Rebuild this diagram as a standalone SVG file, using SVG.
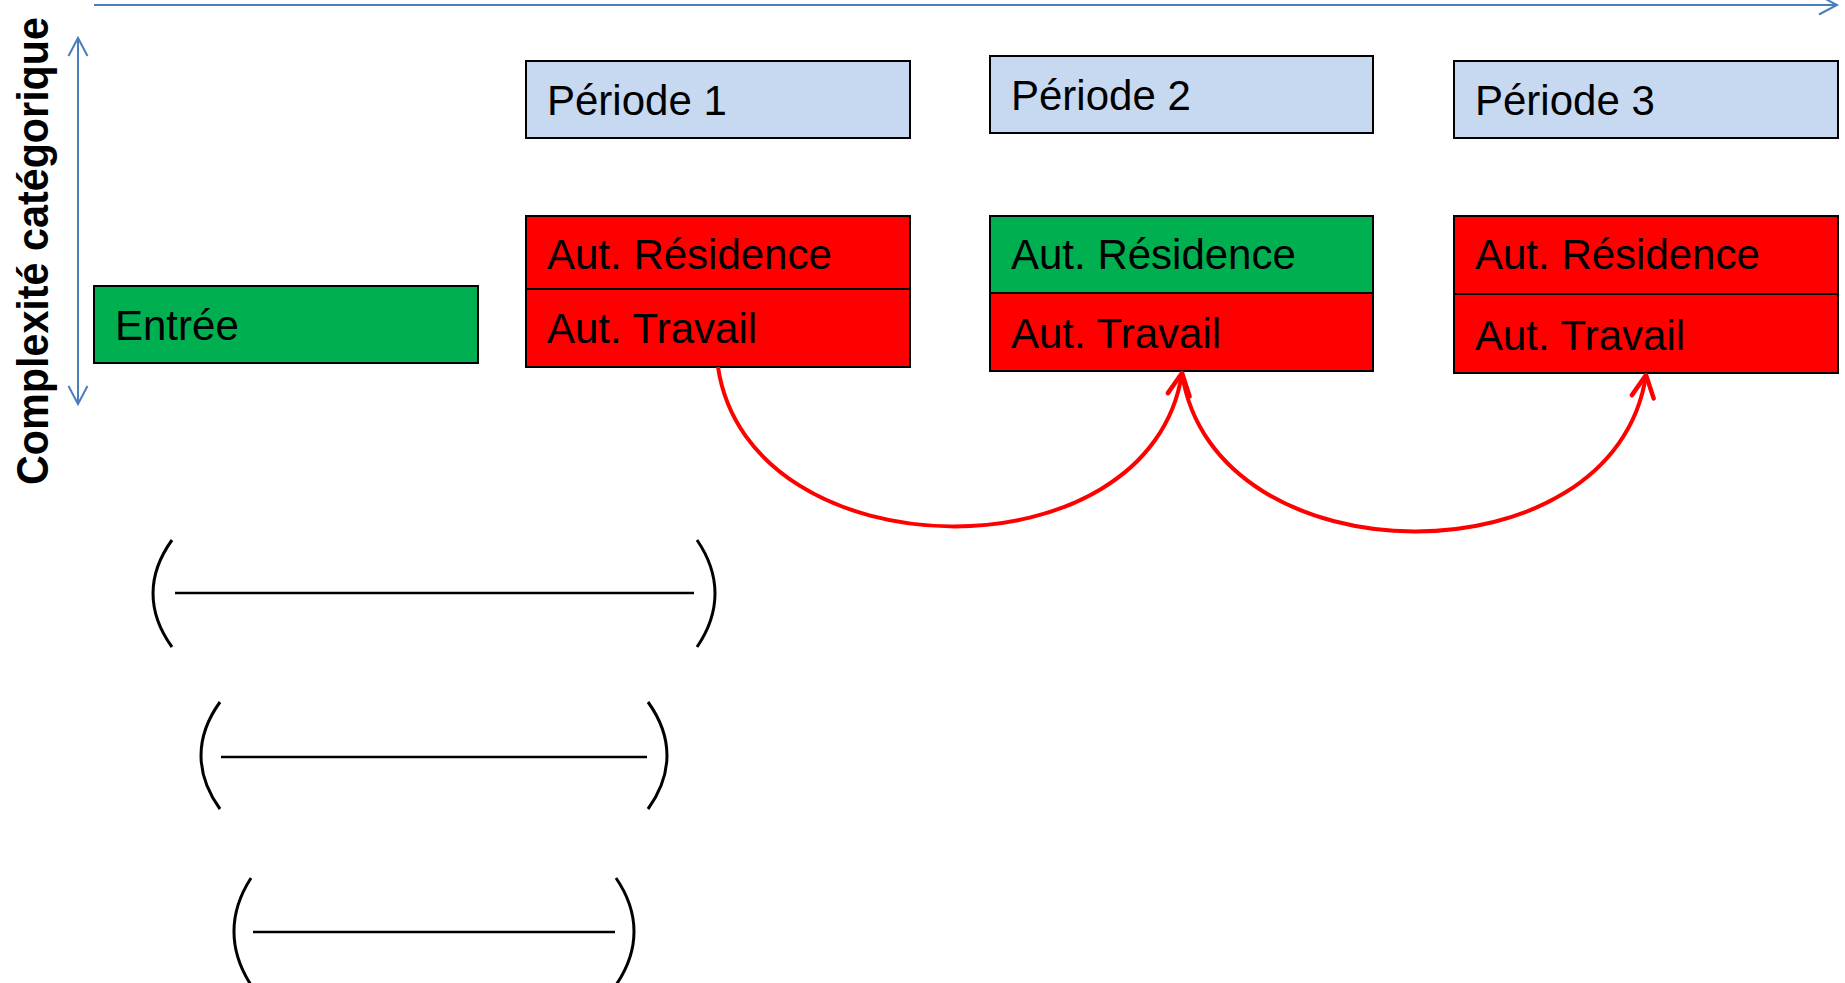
<svg xmlns="http://www.w3.org/2000/svg" width="1845" height="983" viewBox="0 0 1845 983">
<style>
  .lbl { font-family: "Liberation Sans", Arial, sans-serif; font-size: 42px; fill: #000; }
  .axis { font-family: "Liberation Sans", Arial, sans-serif; font-size: 44px; font-weight: bold; fill: #000; }
  .box { stroke: #000; stroke-width: 2; }
  .blue { fill: #C6D9F1; }
  .green { fill: #00B050; }
  .red { fill: #FF0000; }
  .axisline { stroke: #4A7EBB; stroke-width: 2; fill: none; }
  .flow { stroke: #FF0000; stroke-width: 4; fill: none; }
  .paren { stroke: #000; stroke-width: 3; fill: none; }
  .bar { stroke: #000; stroke-width: 2.5; fill: none; }
</style>
<defs>
  <marker id="blueArrow" markerUnits="userSpaceOnUse" markerWidth="30" markerHeight="30" refX="21" refY="12" orient="auto-start-reverse">
    <path d="M3,2.5 L21,12 L3,21.5" fill="none" stroke="#4A7EBB" stroke-width="2"/>
  </marker>
  <marker id="redArrow" markerUnits="userSpaceOnUse" markerWidth="34" markerHeight="34" refX="25" refY="14" orient="auto">
    <path d="M3,3 L25,14 L3,25" fill="none" stroke="#FF0000" stroke-width="4.5" stroke-linecap="round" stroke-linejoin="round"/>
  </marker>
</defs>
<rect width="1845" height="983" fill="#fff"/>

<g id="axes">
  <line class="axisline" x1="94" y1="5" x2="1837" y2="5" marker-end="url(#blueArrow)"/>
  <line class="axisline" x1="78" y1="38" x2="78" y2="404" marker-start="url(#blueArrow)" marker-end="url(#blueArrow)"/>
  <text class="axis" transform="translate(48,251) rotate(-90)" text-anchor="middle" textLength="468" lengthAdjust="spacingAndGlyphs">Complexité catégorique</text>
</g>

<g id="entree">
  <rect class="box green" x="94" y="286" width="384" height="77"/>
  <text class="lbl" x="115" y="340">Entrée</text>
</g>

<g id="periode1">
  <rect class="box blue" x="526" y="61" width="384" height="77"/>
  <text class="lbl" x="547" y="115">Période 1</text>
</g>
<g id="periode2">
  <rect class="box blue" x="990" y="56" width="383" height="77"/>
  <text class="lbl" x="1011" y="110">Période 2</text>
</g>
<g id="periode3">
  <rect class="box blue" x="1454" y="61" width="384" height="77"/>
  <text class="lbl" x="1475" y="115">Période 3</text>
</g>

<g id="p1-aut">
  <rect class="box red" x="526" y="216" width="384" height="73"/>
  <rect class="box red" x="526" y="289" width="384" height="78"/>
  <text class="lbl" x="547" y="269">Aut. Résidence</text>
  <text class="lbl" x="547" y="343">Aut. Travail</text>
</g>
<g id="p2-aut">
  <rect class="box green" x="990" y="216" width="383" height="77"/>
  <rect class="box red" x="990" y="293" width="383" height="78"/>
  <text class="lbl" x="1011" y="269">Aut. Résidence</text>
  <text class="lbl" x="1011" y="348">Aut. Travail</text>
</g>
<g id="p3-aut">
  <rect class="box red" x="1454" y="216" width="384" height="78"/>
  <rect class="box red" x="1454" y="294" width="384" height="79"/>
  <text class="lbl" x="1475" y="269">Aut. Résidence</text>
  <text class="lbl" x="1475" y="350">Aut. Travail</text>
</g>

<g id="connectors">
  <path class="flow" d="M718,367 C749,576 1151,581 1182,373" marker-end="url(#redArrow)"/>
  <path class="flow" d="M1182,373 C1213,583 1615,585 1646,375" marker-end="url(#redArrow)"/>
</g>

<g id="fractions">
  <path class="paren" d="M172,540 C146.7,575 146.7,612 172,647"/>
  <line class="bar" x1="175" y1="593" x2="694" y2="593"/>
  <path class="paren" d="M697,540 C721,575 721,612 697,647"/>

  <path class="paren" d="M220,702 C194.7,737 194.7,774 220,809"/>
  <line class="bar" x1="221" y1="757" x2="647" y2="757"/>
  <path class="paren" d="M648,702 C673.3,737 673.3,774 648,809"/>

  <path class="paren" d="M251,878 C228.3,913 228.3,950 251,985"/>
  <line class="bar" x1="253" y1="932" x2="615" y2="932"/>
  <path class="paren" d="M616,878 C640,913 640,950 616,985"/>
</g>
</svg>
